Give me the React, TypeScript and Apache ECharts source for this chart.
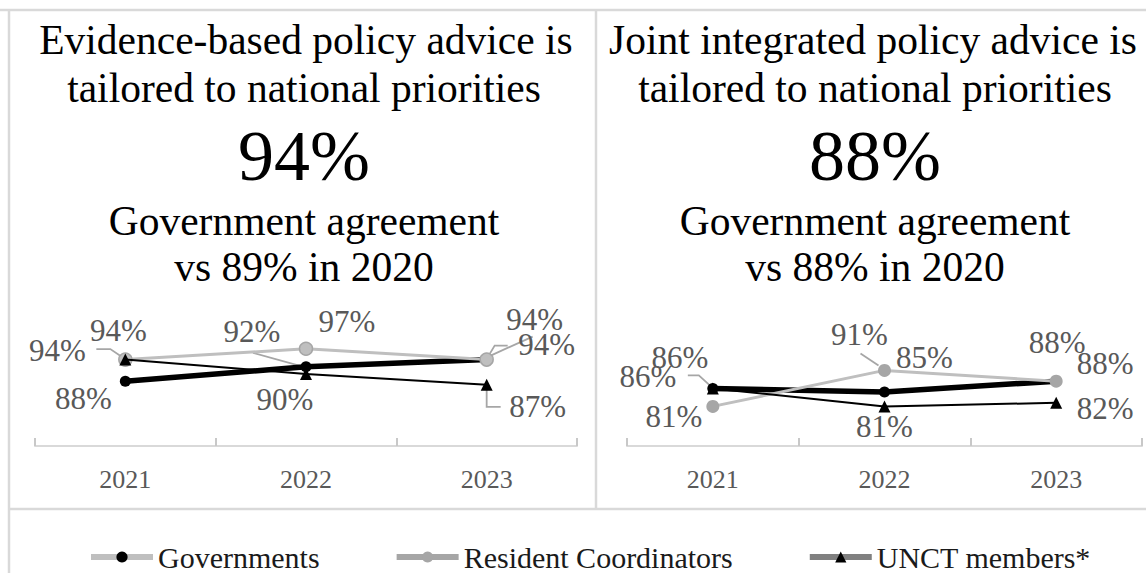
import React, { useEffect, useRef } from 'react';
import * as echarts from 'echarts';

// ---------- data ----------
const categories = ['2021', '2022', '2023'];
const seriesNames = ['Governments', 'Resident Coordinators', 'UNCT members*'];

const leftGovernments = [88, 92, 94];
const leftResidentCoordinators = [94, 97, 94];
const leftUnctMembers = [94, 90, 87];

const rightGovernments = [86, 85, 88];
const rightResidentCoordinators = [81, 91, 88];
const rightUnctMembers = [86, 81, 82];

const leftTitle = ['Evidence-based policy advice is', 'tailored to national priorities'];
const rightTitle = ['Joint integrated policy advice is', 'tailored to national priorities'];
const leftHeadline = '94%';
const rightHeadline = '88%';
const leftSubtitle = ['Government agreement', 'vs 89% in 2020'];
const rightSubtitle = ['Government agreement', 'vs 88% in 2020'];

// ---------- layout / style ----------
const SERIF = 'Liberation Serif, Times New Roman, serif';
const BORDER = '#d9d9d9';
const LABEL_GRAY = '#595959';
const LEADER_GRAY = '#a6a6a6';

// label centre offsets from the point (dx, dy)
const LEFT_OFFSETS = {
  gov: [[-42, 17], [-54, -35], [60, -15]],
  rc: [[-68, -9], [41, -27], [48, -40]],
  unct: [[-7, -29], [-21, 25], [51, 22]],
};
const RIGHT_OFFSETS = {
  gov: [[-65, -12], [40, -35], [49, -18]],
  rc: [[-39, 10], [-25, -36], [1, -39]],
  unct: [[-33, -31], [0, 20], [49, 6]],
};

// leader lines: which point (grid, series values, category index) and a polyline relative to it
const LEADERS: { grid: number; values: number[]; idx: number; path: number[][] }[] = [
  { grid: 0, values: leftGovernments, idx: 1, path: [[-53, -14], [-6, -1]] },
  { grid: 0, values: leftResidentCoordinators, idx: 0, path: [[-29, -10.5], [-15, -10.5], [-4, -3]] },
  { grid: 0, values: leftGovernments, idx: 2, path: [[2, -4], [8, -14], [21, -14]] },
  { grid: 0, values: leftResidentCoordinators, idx: 2, path: [[4, -4], [46, -23]] },
  { grid: 0, values: leftUnctMembers, idx: 2, path: [[0, 5], [0, 22], [14, 22]] },
  { grid: 1, values: rightGovernments, idx: 0, path: [[-25, -13], [-14, -13], [-3, -3]] },
  { grid: 1, values: rightResidentCoordinators, idx: 1, path: [[-24, -17], [-6, -5]] },
];

function makeSeries(name: string, values: number[], axisIndex: number, offsets: number[][], look: any) {
  return {
    type: 'line',
    name,
    xAxisIndex: axisIndex,
    yAxisIndex: axisIndex,
    data: values.map((v, i) => ({
      value: v,
      label: { offset: offsets[i] },
    })),
    symbol: look.symbol,
    symbolSize: look.symbolSize,
    itemStyle: look.itemStyle,
    lineStyle: look.lineStyle,
    z: look.z,
    emphasis: { disabled: true },
    label: {
      show: true,
      position: 'inside',
      formatter: '{c}%',
      color: LABEL_GRAY,
      fontSize: 31,
      fontFamily: SERIF,
    },
  };
}

const govLook = {
  symbol: 'circle',
  symbolSize: 11,
  itemStyle: { color: '#000000' },
  lineStyle: { color: '#000000', width: 5.5 },
  z: 2,
};
const rcLookLeft = {
  symbol: 'circle',
  symbolSize: 13,
  itemStyle: { color: '#bfbfbf', borderColor: '#a6a6a6', borderWidth: 1.5 },
  lineStyle: { color: '#bfbfbf', width: 3 },
  z: 3,
};
const rcLookRight = {
  symbol: 'circle',
  symbolSize: 13,
  itemStyle: { color: '#a6a6a6' },
  lineStyle: { color: '#bfbfbf', width: 3 },
  z: 3,
};
const unctLook = {
  symbol: 'triangle',
  symbolSize: 12,
  itemStyle: { color: '#000000' },
  lineStyle: { color: '#000000', width: 2 },
  z: 4,
};

function textEl(id: string, text: string, x: number, y: number, size: number) {
  return {
    id,
    type: 'text',
    x,
    y,
    silent: true,
    style: {
      text,
      fontSize: size,
      fontFamily: SERIF,
      fill: '#000000',
      align: 'center',
      verticalAlign: 'middle',
      textAlign: 'center',
      textVerticalAlign: 'middle',
    },
  };
}

function borderLine(id: string, x1: number, y1: number, x2: number, y2: number) {
  return {
    id,
    type: 'line',
    silent: true,
    shape: { x1, y1, x2, y2 },
    style: { stroke: BORDER, lineWidth: 2.5 },
  };
}

export default function App() {
  const ref = useRef<HTMLDivElement>(null);

  useEffect(() => {
    document.body.style.margin = '0';
    document.body.style.overflow = 'hidden';
    if (!ref.current) return;
    const chart = echarts.init(ref.current, undefined, { renderer: 'svg' });

    const leftX = 304;
    const rightX = 875;
    const T = 41.5;

    const xAxisBase = (gridIndex: number) => ({
      type: 'category',
      gridIndex,
      data: categories,
      boundaryGap: true,
      axisLine: { lineStyle: { color: BORDER, width: 2 } },
      axisTick: { show: true, inside: true, length: 8, lineStyle: { color: '#c8c8c8', width: 2 } },
      axisLabel: { color: LABEL_GRAY, fontSize: 26, fontFamily: SERIF, margin: 20 },
      splitLine: { show: false },
    });

    const option: any = {
      animation: false,
      backgroundColor: '#ffffff',
      textStyle: { fontFamily: SERIF },
      grid: [
        { left: 35, right: 569, top: 338, height: 108 },
        { left: 627, right: 4, top: 338, height: 108 },
      ],
      xAxis: [xAxisBase(0), xAxisBase(1)],
      yAxis: [
        { type: 'value', gridIndex: 0, min: 70, max: 100, show: false },
        { type: 'value', gridIndex: 1, min: 70, max: 100, show: false },
      ],
      legend: {
        left: 88,
        top: 542,
        padding: 0,
        itemWidth: 62,
        itemHeight: 14,
        itemGap: 74,
        selectedMode: false,
        textStyle: { fontFamily: SERIF, fontSize: 30, color: '#1a1a1a' },
        data: [
          {
            name: seriesNames[0],
            itemStyle: { color: '#000000', borderWidth: 0 },
            lineStyle: { color: '#bfbfbf', width: 6 },
          },
          {
            name: seriesNames[1],
            itemStyle: { color: '#a6a6a6', borderWidth: 0 },
            lineStyle: { color: '#a6a6a6', width: 6 },
          },
          {
            name: seriesNames[2],
            itemStyle: { color: '#000000', borderWidth: 0 },
            lineStyle: { color: '#808080', width: 6 },
          },
        ],
      },
      graphic: [
        borderLine('b1', 0, 10, 1146, 10),
        borderLine('b2', 9, 10, 9, 573),
        borderLine('b3', 596, 10, 596, 509),
        borderLine('b4', 9, 509, 1146, 509),
        textEl('lt1', leftTitle[0], leftX + 2, 39.5, T),
        textEl('lt2', leftTitle[1], leftX, 88, T),
        textEl('lh', leftHeadline, leftX, 156, 72),
        textEl('ls1', leftSubtitle[0], leftX, 221, T),
        textEl('ls2', leftSubtitle[1], leftX, 266.5, T),
        textEl('rt1', rightTitle[0], rightX - 2, 39.5, T),
        textEl('rt2', rightTitle[1], rightX, 88, T),
        textEl('rh', rightHeadline, rightX, 156, 72),
        textEl('rs1', rightSubtitle[0], rightX, 221, T),
        textEl('rs2', rightSubtitle[1], rightX, 266.5, T),
      ],
      series: [
        makeSeries(seriesNames[0], leftGovernments, 0, LEFT_OFFSETS.gov, govLook),
        makeSeries(seriesNames[1], leftResidentCoordinators, 0, LEFT_OFFSETS.rc, rcLookLeft),
        makeSeries(seriesNames[2], leftUnctMembers, 0, LEFT_OFFSETS.unct, unctLook),
        makeSeries(seriesNames[0], rightGovernments, 1, RIGHT_OFFSETS.gov, govLook),
        makeSeries(seriesNames[1], rightResidentCoordinators, 1, RIGHT_OFFSETS.rc, rcLookRight),
        makeSeries(seriesNames[2], rightUnctMembers, 1, RIGHT_OFFSETS.unct, unctLook),
      ],
    };

    chart.setOption(option);

    // leader lines anchored to data points through the chart's own scales
    const leaderEls = LEADERS.map((l, k) => {
      const p = chart.convertToPixel({ gridIndex: l.grid } as any, [l.idx, l.values[l.idx]]) as number[];
      return {
        id: 'leader' + k,
        type: 'polyline',
        silent: true,
        z: 1,
        shape: { points: l.path.map(([dx, dy]) => [p[0] + dx, p[1] + dy]) },
        style: { stroke: LEADER_GRAY, lineWidth: 1.8, fill: null },
      };
    });
    chart.setOption({ graphic: leaderEls });

    return () => {
      chart.dispose();
    };
  }, []);

  return <div ref={ref} style={{ width: 1146, height: 573 }} />;
}
